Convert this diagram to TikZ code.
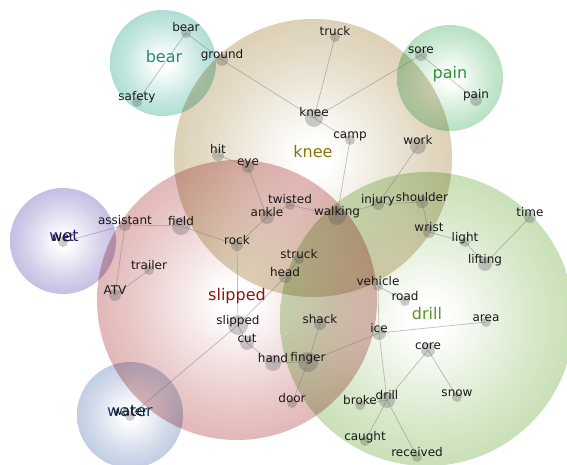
\documentclass[tikz,border=0pt]{standalone}
\usepackage{fontspec}
\setmainfont{DejaVu Sans}

% cluster colours (rim of each disc) and label colours
\definecolor{bearc}{RGB}{108,194,178}
\definecolor{painc}{RGB}{124,200,142}
\definecolor{kneec}{RGB}{192,170,122}
\definecolor{slipc}{RGB}{202,124,124}
\definecolor{drillc}{RGB}{156,198,124}
\definecolor{wetc}{RGB}{152,136,204}
\definecolor{waterc}{RGB}{142,164,204}
\definecolor{beart}{RGB}{30,140,122}
\definecolor{paint}{RGB}{40,150,55}
\definecolor{kneet}{RGB}{135,118,10}
\definecolor{slipt}{RGB}{140,20,20}
\definecolor{drillt}{RGB}{90,150,35}
\definecolor{wett}{RGB}{40,25,125}
\definecolor{watert}{RGB}{25,55,110}

% white core fading to the cluster colour at the rim
\newcommand\discshading[2]{%
  \pgfdeclareradialshading{#1}{\pgfpointorigin}{color(0bp)=(white);color(3bp)=(white);color(18bp)=(#2!40!white);color(36bp)=(#2!78!white);color(50bp)=(#2)}}
\discshading{bearshade}{bearc}
\discshading{painshade}{painc}
\discshading{kneeshade}{kneec}
\discshading{slipshade}{slipc}
\discshading{drillshade}{drillc}
\discshading{wetshade}{wetc}
\discshading{watershade}{waterc}

\tikzset{
  dot/.style={circle, inner sep=0pt, draw=none, fill=black!70, fill opacity=0.28, minimum size=#1},
  edge/.style={draw=black!55, draw opacity=0.45, line width=0.7pt},
  wlabel/.style={anchor=base, inner sep=0pt, text=black!90, font=\fontsize{12}{14}\selectfont},
  clabel/.style={anchor=base, inner sep=0pt, font=\fontsize{16}{19}\selectfont},
}

% a word: named dot of given radius
\newcommand\worddot[4]{\node[dot={#4*2pt}] (#1) at (#2,#3) {};}
\newcommand\wordtext[2]{\node[wlabel] (#1-t) at ([yshift=1pt]#1.center) {#2};}

\begin{document}
\begin{tikzpicture}[x=1pt,y=-1pt]
\useasboundingbox (0,0) rectangle (567,465);
\fill[white] (0,0) rectangle (567,465);

% cluster discs, multiplied over each other
\begin{scope}[blend mode=multiply]
  \shade[shading=kneeshade]  (313,158) circle[radius=139pt];
  \shade[shading=slipshade]  (237,300) circle[radius=140pt];
  \shade[shading=drillshade] (427,319) circle[radius=147pt];
  \shade[shading=bearshade]  (163,63)  circle[radius=53pt];
  \shade[shading=painshade]  (450,78)  circle[radius=53pt];
  \shade[shading=wetshade]   (63,241)  circle[radius=53pt];
  \shade[shading=watershade] (130,415) circle[radius=53pt];
\end{scope}

% word dots
\worddot{wbear}{186}{33}{5}
\worddot{wground}{222}{60}{6}
\worddot{wsafety}{137}{102}{5}
\worddot{wtruck}{335}{37}{5}
\worddot{wsore}{421}{55}{6}
\worddot{wpain}{476}{100}{6}
\worddot{wknee}{314}{118}{9}
\worddot{wcamp}{350}{140}{5}
\worddot{wwork}{418}{146}{8}
\worddot{whit}{218}{155}{6}
\worddot{weye}{248}{167}{6}
\worddot{wtwisted}{290}{205}{5}
\worddot{wankle}{267}{217}{7}
\worddot{wwalking}{337}{216}{9}
\worddot{winjury}{378}{204}{6}
\worddot{wshoulder}{422}{202}{6}
\worddot{wwrist}{429}{232}{6}
\worddot{wlight}{465}{242}{5}
\worddot{wlifting}{485}{264}{7}
\worddot{wtime}{530}{217}{6}
\worddot{wassistant}{125}{225}{6}
\worddot{wfield}{181}{226}{9}
\worddot{wrock}{237}{245}{6}
\worddot{wtrailer}{149}{270}{5}
\worddot{wATV}{115}{295}{6}
\worddot{wstruck}{299}{259}{5}
\worddot{whead}{285}{277}{6}
\worddot{wvehicle}{378}{286}{5}
\worddot{wroad}{405}{301}{5}
\worddot{warea}{486}{322}{5}
\worddot{wshack}{320}{324}{6}
\worddot{wice}{379}{333}{7}
\worddot{wslipped}{238}{325}{10}
\worddot{wcut}{247}{343}{7}
\worddot{wcore}{428}{350}{7}
\worddot{whand}{273}{363}{8}
\worddot{wfinger}{308}{362}{10}
\worddot{wdoor}{292}{403}{5}
\worddot{wbroke}{360}{405}{5}
\worddot{wdrill}{387}{400}{8}
\worddot{wsnow}{457}{397}{5}
\worddot{wcaught}{365}{441}{5}
\worddot{wreceived}{417}{457}{5}
\worddot{wwet}{63}{242}{5}
\worddot{wwater}{130}{416}{5}

% tree edges between words
\foreach \a/\b in {wbear/wsafety, wbear/wground, wground/wknee, wtruck/wknee,
  wsore/wknee, wsore/wpain, wknee/wcamp, wcamp/wwalking, wwork/winjury,
  winjury/wwalking, winjury/wshoulder, wshoulder/wwrist, wwrist/wlight,
  wlight/wlifting, wlifting/wtime, whit/weye, weye/wankle, wankle/wtwisted,
  wtwisted/wwalking, wankle/wrock, wfield/wrock, wassistant/wfield,
  wassistant/wwet, wassistant/wATV, wATV/wtrailer, wrock/wslipped,
  wslipped/wwater, wslipped/whead, whead/wstruck, wslipped/wcut, wcut/whand,
  whand/wfinger, wshack/wfinger, wfinger/wdoor, wfinger/wice, wvehicle/wroad,
  wvehicle/wice, wice/warea, wice/wdrill, wdrill/wbroke, wdrill/wcaught,
  wdrill/wreceived, wdrill/wcore, wcore/wsnow}
  \draw[edge] (\a.center) -- (\b.center);

% cluster names
\node[clabel, text=beart]  (cbear)  at (164,63)  {bear};
\node[clabel, text=paint]  (cpain)  at (450,79)  {pain};
\node[clabel, text=kneet]  (cknee)  at (313,158) {knee};
\node[clabel, text=slipt]  (cslip)  at (237,300) {slipped};
\node[clabel, text=drillt] (cdrill) at (427,319) {drill};
\node[clabel, text=wett]   (cwet)   at (64,241)  {wet};
\node[clabel, text=watert] (cwater) at (130,416) {water};

% word labels
\wordtext{wbear}{bear}
\wordtext{wground}{ground}
\wordtext{wsafety}{safety}
\wordtext{wtruck}{truck}
\wordtext{wsore}{sore}
\wordtext{wpain}{pain}
\wordtext{wknee}{knee}
\wordtext{wcamp}{camp}
\wordtext{wwork}{work}
\wordtext{whit}{hit}
\wordtext{weye}{eye}
\wordtext{wtwisted}{twisted}
\wordtext{wankle}{ankle}
\wordtext{wwalking}{walking}
\wordtext{winjury}{injury}
\wordtext{wshoulder}{shoulder}
\wordtext{wwrist}{wrist}
\wordtext{wlight}{light}
\wordtext{wlifting}{lifting}
\wordtext{wtime}{time}
\wordtext{wassistant}{assistant}
\wordtext{wfield}{field}
\wordtext{wrock}{rock}
\wordtext{wtrailer}{trailer}
\wordtext{wATV}{ATV}
\wordtext{wstruck}{struck}
\wordtext{whead}{head}
\wordtext{wvehicle}{vehicle}
\wordtext{wroad}{road}
\wordtext{warea}{area}
\wordtext{wshack}{shack}
\wordtext{wice}{ice}
\wordtext{wslipped}{slipped}
\wordtext{wcut}{cut}
\wordtext{wcore}{core}
\wordtext{whand}{hand}
\wordtext{wfinger}{finger}
\wordtext{wdoor}{door}
\wordtext{wbroke}{broke}
\wordtext{wdrill}{drill}
\wordtext{wsnow}{snow}
\wordtext{wcaught}{caught}
\wordtext{wreceived}{received}
\wordtext{wwet}{wet}
\wordtext{wwater}{water}
\end{tikzpicture}
\end{document}
